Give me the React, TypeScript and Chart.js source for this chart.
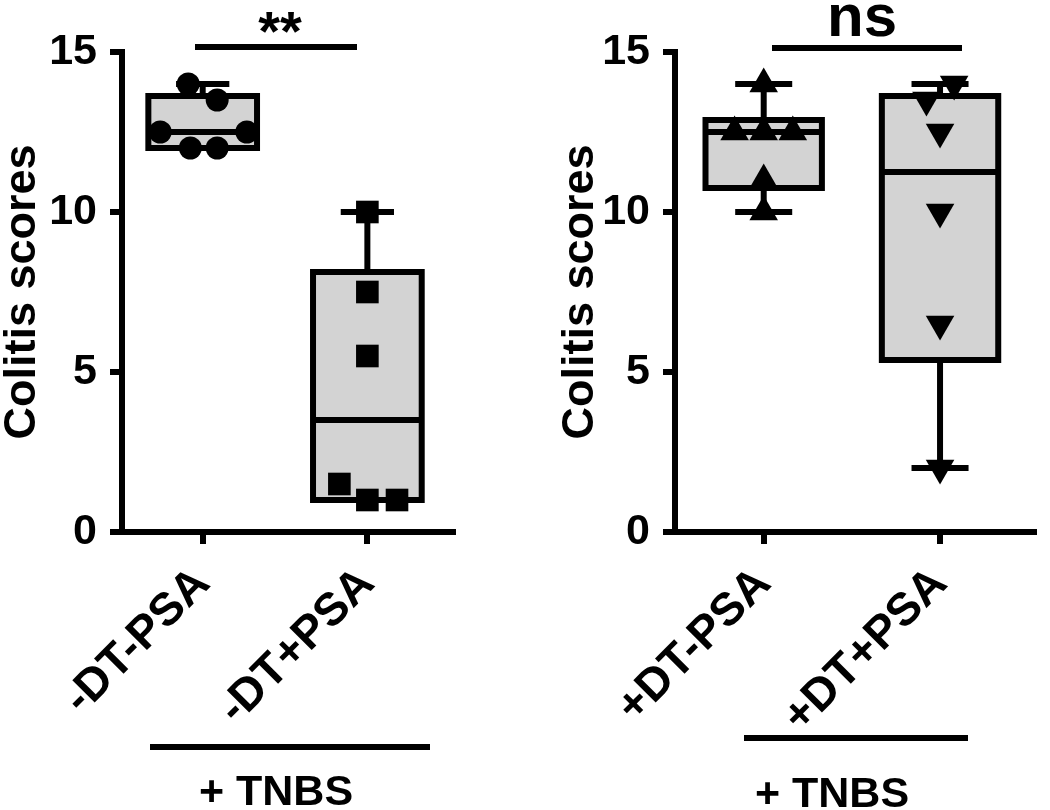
import React, { useEffect, useRef } from 'react';
import { Chart, registerables } from 'chart.js';

Chart.register(...registerables);

// ---------------- data ----------------
const LEFT_CATEGORIES = ['-DT-PSA', '-DT+PSA'];
const RIGHT_CATEGORIES = ['+DT-PSA', '+DT+PSA'];
const SCORES_NEG_DT_NEG_PSA = [12, 12, 12.5, 12.5, 13.5, 14];
const SCORES_NEG_DT_POS_PSA = [1, 1, 1.5, 5.5, 7.5, 10];
const SCORES_POS_DT_NEG_PSA = [10, 11, 12.5, 12.5, 12.5, 14];
const SCORES_POS_DT_POS_PSA = [2, 6.5, 10, 12.5, 13.5, 14];
const Y_TICKS = [0, 5, 10, 15];
const Y_TITLE = 'Colitis scores';
const LEFT_SIGNIFICANCE = '**';
const RIGHT_SIGNIFICANCE = 'ns';
const TREATMENT_LABEL = '+ TNBS';

// ---------------- layout / style ----------------
const FONT = "'Liberation Sans', Arial, Helvetica, sans-serif";
const LINE_W = 6;
const CAP_RATIO = 0.49;
const BOX_FILL = '#d3d3d3';
// horizontal spread of overlapping points (category units)
const JITTER_NEG_DT_NEG_PSA = [-0.075, 0.088, -0.258, 0.268, 0.088, -0.088];
const JITTER_NEG_DT_POS_PSA = [0, 0.18, -0.17, 0, 0, 0];
const JITTER_POS_DT_NEG_PSA = [0, 0, -0.165, 0, 0.165, 0];
const JITTER_POS_DT_POS_PSA = [0, 0, 0, 0, -0.077, 0.08];

function quantile(values: number[], p: number) {
  const s = [...values].sort((a, b) => a - b);
  const n = s.length;
  const pos = p * (n + 1);
  if (pos <= 1) return s[0];
  if (pos >= n) return s[n - 1];
  const lo = Math.floor(pos);
  const frac = pos - lo;
  return s[lo - 1] + frac * (s[lo] - s[lo - 1]);
}

function boxStats(values: number[]) {
  return {
    min: Math.min(...values),
    q1: quantile(values, 0.25),
    median: quantile(values, 0.5),
    q3: quantile(values, 0.75),
    max: Math.max(...values),
  };
}

type PointStyleCfg = { style: string; rotation: number; radius: number };

type PanelCfg = {
  left: number;
  width: number;
  categories: string[];
  groups: number[][];
  jitters: number[][];
  markers: PointStyleCfg[];
  xMin: number;
  xMax: number;
  yAxisWidth: number;
  padRight: number;
  sig: { text: string; size: number; x0: number; x1: number; lineY: number; textX: number; textY: number };
  treat: { x0: number; x1: number; lineY: number; textX: number; textY: number };
};

const HEIGHT = 810;
const PLOT_TOP = 52;
const PLOT_BOTTOM = 532;

const PANELS: PanelCfg[] = [
  {
    left: 0,
    width: 558,
    categories: LEFT_CATEGORIES,
    groups: [SCORES_NEG_DT_NEG_PSA, SCORES_NEG_DT_POS_PSA],
    jitters: [JITTER_NEG_DT_NEG_PSA, JITTER_NEG_DT_POS_PSA],
    markers: [
      { style: 'circle', rotation: 0, radius: 11.5 },
      { style: 'rect', rotation: 0, radius: 16 },
    ],
    xMin: -0.49,
    xMax: 1.52,
    yAxisWidth: 122,
    padRight: 105,
    sig: { text: LEFT_SIGNIFICANCE, size: 56, x0: 195, x1: 357, lineY: 47, textX: 280, textY: 50 },
    treat: { x0: 150, x1: 430, lineY: 747, textX: 276, textY: 805 },
  },
  {
    left: 558,
    width: 492,
    categories: RIGHT_CATEGORIES,
    groups: [SCORES_POS_DT_NEG_PSA, SCORES_POS_DT_POS_PSA],
    jitters: [JITTER_POS_DT_NEG_PSA, JITTER_POS_DT_POS_PSA],
    markers: [
      { style: 'triangle', rotation: 0, radius: 16.5 },
      { style: 'triangle', rotation: 180, radius: 16.5 },
    ],
    xMin: -0.503,
    xMax: 1.53,
    yAxisWidth: 117,
    padRight: 3,
    sig: { text: RIGHT_SIGNIFICANCE, size: 60, x0: 214, x1: 404, lineY: 48, textX: 304, textY: 36 },
    treat: { x0: 186, x1: 410, lineY: 738, textX: 274, textY: 807 },
  },
];

function Panel({ cfg }: { cfg: PanelCfg }) {
  const ref = useRef<HTMLCanvasElement | null>(null);

  useEffect(() => {
    if (!ref.current) return;
    const stats = cfg.groups.map(boxStats);

    const boxPlugin = {
      id: 'boxWhiskers',
      afterDatasetDraw(chart: any, args: any) {
        if (args.index !== 0) return;
        const y = chart.scales.y;
        const ctx = chart.ctx;
        ctx.save();
        ctx.strokeStyle = '#000';
        ctx.lineWidth = LINE_W;
        ctx.lineCap = 'butt';
        ctx.lineJoin = 'miter';
        args.meta.data.forEach((bar: any, i: number) => {
          const s = stats[i];
          const { x, width } = bar.getProps(['x', 'width'], true);
          const yTop = y.getPixelForValue(s.q3);
          const yBot = y.getPixelForValue(s.q1);
          const cap = (width * CAP_RATIO) / 2;
          const segs: [number, number][] = [
            [s.q3, s.max],
            [s.q1, s.min],
          ];
          segs.forEach(([from, to]) => {
            const y0 = y.getPixelForValue(from);
            const y1 = y.getPixelForValue(to);
            ctx.beginPath();
            ctx.moveTo(x, y0);
            ctx.lineTo(x, y1);
            ctx.stroke();
            ctx.beginPath();
            ctx.moveTo(x - cap, y1);
            ctx.lineTo(x + cap, y1);
            ctx.stroke();
          });
          ctx.strokeRect(x - width / 2, yTop, width, yBot - yTop);
          const ym = y.getPixelForValue(s.median);
          ctx.beginPath();
          ctx.moveTo(x - width / 2, ym);
          ctx.lineTo(x + width / 2, ym);
          ctx.stroke();
        });
        ctx.restore();
      },
    };

    const annotPlugin = {
      id: 'annotations',
      afterDraw(chart: any) {
        const ctx = chart.ctx;
        ctx.save();
        ctx.strokeStyle = '#000';
        ctx.fillStyle = '#000';
        ctx.lineWidth = LINE_W;
        ctx.lineCap = 'butt';
        const { sig, treat } = cfg;
        ctx.beginPath();
        ctx.moveTo(sig.x0, sig.lineY);
        ctx.lineTo(sig.x1, sig.lineY);
        ctx.stroke();
        ctx.beginPath();
        ctx.moveTo(treat.x0, treat.lineY);
        ctx.lineTo(treat.x1, treat.lineY);
        ctx.stroke();
        ctx.textAlign = 'center';
        ctx.textBaseline = 'alphabetic';
        ctx.font = `bold ${sig.size}px ${FONT}`;
        ctx.fillText(sig.text, sig.textX, sig.textY);
        ctx.font = `bold 43px ${FONT}`;
        ctx.fillText(TREATMENT_LABEL, treat.textX, treat.textY);
        ctx.restore();
      },
    };

    const datasets: any[] = [
      {
        type: 'bar',
        data: stats.map((s, i) => ({ x: i, y: [s.q1, s.q3] })),
        backgroundColor: BOX_FILL,
        borderColor: '#000',
        borderWidth: 0,
        borderSkipped: false,
        barPercentage: 0.66,
        categoryPercentage: 1,
        order: 2,
        clip: false,
      },
      ...cfg.groups.map((vals, i) => ({
        type: 'scatter',
        data: vals.map((v, k) => ({ x: i + cfg.jitters[i][k], y: v })),
        pointStyle: cfg.markers[i].style,
        pointRotation: cfg.markers[i].rotation,
        pointRadius: cfg.markers[i].radius,
        pointHoverRadius: cfg.markers[i].radius,
        backgroundColor: '#000',
        borderColor: '#000',
        borderWidth: 0,
        order: 1,
        clip: false,
      })),
    ];

    const tickFont = { family: FONT, size: 43, weight: 'bold' as const };

    const chart = new Chart(ref.current, {
      type: 'bar',
      data: { datasets },
      plugins: [boxPlugin, annotPlugin],
      options: {
        animation: false,
        responsive: false,
        devicePixelRatio: 1,
        events: [],
        layout: { padding: { top: PLOT_TOP, right: cfg.padRight, bottom: 0, left: 0 } },
        plugins: { legend: { display: false }, tooltip: { enabled: false }, title: { display: false } },
        scales: {
          x: {
            type: 'linear',
            min: cfg.xMin,
            max: cfg.xMax,
            offset: false,
            afterBuildTicks: (scale: any) => {
              scale.ticks = cfg.categories.map((_, i) => ({ value: i }));
            },
            afterFit: (scale: any) => {
              scale.height = HEIGHT - PLOT_BOTTOM;
            },
            grid: {
              display: true,
              drawOnChartArea: false,
              drawTicks: true,
              offset: false,
              tickLength: 12,
              tickWidth: LINE_W,
              tickColor: '#000',
              color: '#000',
              lineWidth: LINE_W,
            },
            border: { display: true, color: '#000', width: LINE_W },
            ticks: {
              autoSkip: false,
              minRotation: 45,
              maxRotation: 45,
              padding: 13,
              color: '#000',
              font: { family: FONT, size: 46, weight: 'bold' },
              callback: (_v: any, i: number) => cfg.categories[i],
            },
          },
          y: {
            type: 'linear',
            min: 0,
            max: 15,
            afterBuildTicks: (scale: any) => {
              scale.ticks = Y_TICKS.map((v) => ({ value: v }));
            },
            afterFit: (scale: any) => {
              scale.width = cfg.yAxisWidth;
            },
            grid: {
              display: true,
              drawOnChartArea: false,
              drawTicks: true,
              tickLength: 12,
              tickWidth: LINE_W,
              tickColor: '#000',
              color: '#000',
              lineWidth: LINE_W,
            },
            border: { display: true, color: '#000', width: LINE_W },
            ticks: {
              padding: 13,
              color: '#000',
              font: tickFont,
              callback: (v: any) => String(v),
            },
            title: {
              display: true,
              text: Y_TITLE,
              color: '#000',
              padding: 0,
              font: { family: FONT, size: 45, weight: 'bold', lineHeight: 1 },
            },
          },
        },
      } as any,
    });

    return () => chart.destroy();
  }, [cfg]);

  return (
    <div style={{ position: 'absolute', left: cfg.left, top: 0, width: cfg.width, height: HEIGHT }}>
      <canvas ref={ref} width={cfg.width} height={HEIGHT} style={{ width: cfg.width, height: HEIGHT, display: 'block' }} />
    </div>
  );
}

export default function App() {
  return (
    <div style={{ position: 'absolute', left: 0, top: 0, width: 1050, height: HEIGHT, background: '#fff', overflow: 'hidden' }}>
      {PANELS.map((p, i) => (
        <Panel key={i} cfg={p} />
      ))}
    </div>
  );
}
